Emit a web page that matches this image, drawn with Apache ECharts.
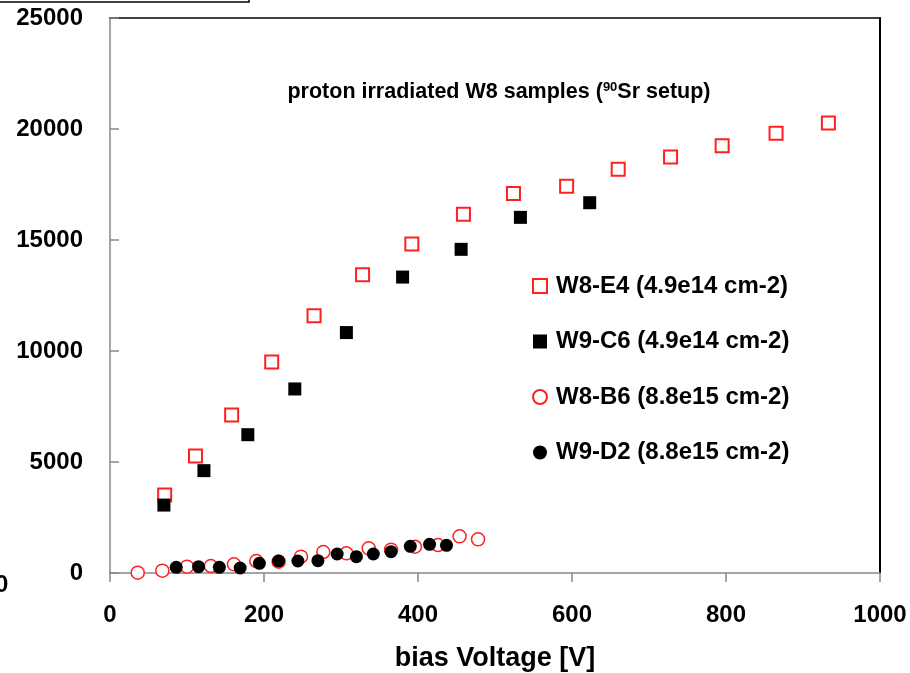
<!DOCTYPE html>
<html>
<head>
<meta charset="utf-8">
<script src="https://cdn.jsdelivr.net/npm/echarts@6/dist/echarts.min.js"></script>
<style>html,body{margin:0;padding:0;background:#fff;overflow:hidden}#c{width:910px;height:673px}</style>
</head>
<body>
<div id="c"></div>
<script>
// ---- data ----
const seriesNames = ['W8-E4 (4.9e14 cm-2)', 'W9-C6 (4.9e14 cm-2)', 'W8-B6 (8.8e15 cm-2)', 'W9-D2 (8.8e15 cm-2)'];
const xE4 = [71, 111, 158, 210, 265, 328, 392, 459, 524, 593, 660, 728, 795, 865, 933];
const yE4 = [3510, 5270, 7120, 9500, 11590, 13440, 14820, 16160, 17100, 17420, 18190, 18740, 19250, 19810, 20270];
const xC6 = [70, 122, 179, 240, 307, 380, 456, 533, 623];
const yC6 = [3060, 4610, 6230, 8290, 10830, 13330, 14580, 16020, 16680];
const xB6 = [36, 68, 100, 131, 161, 190, 219, 248, 277, 307, 336, 365, 396, 426, 454, 478];
const yB6 = [15, 105, 285, 315, 390, 540, 510, 735, 945, 885, 1110, 1050, 1185, 1260, 1650, 1515];
const xD2 = [86, 115, 142, 169, 194, 219, 244, 270, 295, 320, 342, 365, 390, 415, 437];
const yD2 = [255, 285, 255, 225, 435, 540, 540, 555, 855, 735, 855, 960, 1200, 1290, 1245];
const xTicks = [0, 200, 400, 600, 800, 1000];
const yTicks = [0, 5000, 10000, 15000, 20000, 25000];

const zip = (xs, ys) => xs.map((x, i) => [x, ys[i]]);
const FONT = "'Liberation Sans', Arial, sans-serif";
const RED = '#ff2020';
const plain = v => String(v);

const chart = echarts.init(document.getElementById('c'), null, {renderer: 'canvas', width: 910, height: 673});
chart.setOption({
  animation: false,
  backgroundColor: '#fff',
  title: {
    text: 'proton irradiated W8 samples ({sup|90}Sr setup)',
    left: 494, top: 76, textAlign: 'center',
    textStyle: {
      fontFamily: FONT, fontSize: 21.5, fontWeight: 'bold', color: '#000',
      rich: { sup: { fontFamily: FONT, fontSize: 13, fontWeight: 'bold', color: '#000', verticalAlign: 'top', padding: [0, 0, 8, 0] } }
    }
  },
  grid: { left: 110, right: 30, top: 18, bottom: 100, containLabel: false, outerBoundsMode: 'none' },
  legend: {
    orient: 'vertical', left: 532, top: 273, padding: 0,
    itemWidth: 14, itemHeight: 14, itemGap: 29.5,
    textStyle: { fontFamily: FONT, fontSize: 24, fontWeight: 'bold', color: '#000', lineHeight: 26, padding: [0, 0, 0, 4] },
    data: seriesNames
  },
  xAxis: [{
    type: 'value', min: xTicks[0], max: xTicks[xTicks.length - 1], interval: 200,
    name: 'bias Voltage [V]', nameLocation: 'middle', nameGap: 72,
    nameTextStyle: { fontFamily: FONT, fontSize: 27, fontWeight: 'bold', color: '#000' },
    axisLine: { show: true, onZero: false, lineStyle: { color: '#888', width: 1.5 } },
    axisTick: { show: true, inside: false, length: 9, lineStyle: { color: '#888', width: 1.5 } },
    axisLabel: { margin: 30, fontFamily: FONT, fontSize: 24, fontWeight: 'bold', color: '#000', formatter: plain },
    splitLine: { show: false }
  }, {
    type: 'value', position: 'top', min: 0, max: 1000,
    axisLine: { show: true, onZero: false, lineStyle: { color: '#000', width: 1.5 } },
    axisTick: { show: false }, axisLabel: { show: false }, splitLine: { show: false }
  }],
  yAxis: [{
    type: 'value', min: yTicks[0], max: yTicks[yTicks.length - 1], interval: 5000,
    axisLine: { show: true, onZero: false, lineStyle: { color: '#888', width: 1.5 } },
    axisTick: { show: true, inside: true, length: 9, lineStyle: { color: '#888', width: 1.5 } },
    axisLabel: { margin: 27, fontFamily: FONT, fontSize: 24, fontWeight: 'bold', color: '#000', formatter: plain },
    splitLine: { show: false }
  }, {
    type: 'value', position: 'right', min: 0, max: 25000,
    axisLine: { show: true, onZero: false, lineStyle: { color: '#000', width: 2 } },
    axisTick: { show: false }, axisLabel: { show: false }, splitLine: { show: false }
  }],
  series: [
    { name: seriesNames[0], type: 'scatter', symbol: 'rect', symbolSize: 13,
      itemStyle: { color: '#fff', borderColor: RED, borderWidth: 2, opacity: 1 },
      data: zip(xE4, yE4) },
    { name: seriesNames[1], type: 'scatter', symbol: 'rect', symbolSize: 13,
      itemStyle: { color: '#000', opacity: 1 },
      data: zip(xC6, yC6) },
    { name: seriesNames[2], type: 'scatter', symbol: 'circle', symbolSize: 13,
      itemStyle: { color: '#fff', borderColor: RED, borderWidth: 1.5, opacity: 1 },
      data: zip(xB6, yB6) },
    { name: seriesNames[3], type: 'scatter', symbol: 'circle', symbolSize: 13,
      itemStyle: { color: '#000', opacity: 1 },
      data: zip(xD2, yD2) }
  ],
  graphic: [
    { type: 'rect', shape: { x: -3, y: -10, width: 252, height: 12 },
      style: { fill: 'none', stroke: '#000', lineWidth: 1.5 }, silent: true },
    { type: 'text', x: -5, y: 585,
      style: { text: '0', fontFamily: FONT, fontSize: 24, fontWeight: 'bold', fill: '#000', textVerticalAlign: 'middle' } }
  ]
});
</script>
</body>
</html>
